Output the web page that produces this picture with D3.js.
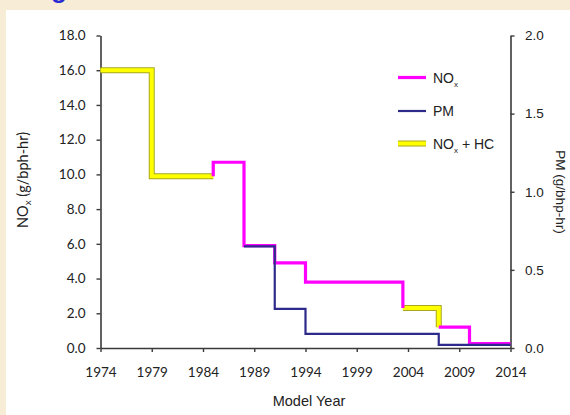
<!DOCTYPE html>
<html><head><meta charset="utf-8">
<script src="https://cdn.jsdelivr.net/npm/d3@7"></script>
<style>html,body{margin:0;padding:0;background:#f7ecd5;}svg{display:block;}</style>
</head><body>
<svg id="c" width="570" height="415"></svg>
<script>
// ---- data ----
const xTickYears = [1974, 1979, 1984, 1989, 1994, 1999, 2004, 2009, 2014];
const leftTicks = [0, 2, 4, 6, 8, 10, 12, 14, 16, 18];
const rightTicks = [0, 0.5, 1.0, 1.5, 2.0];
const noxStart = [1985, 1988, 1991, 1994, 2007, 2010];
const noxValues = [10.7, 5.9, 4.9, 3.8, 1.2, 0.25];
const noxhcStart = [1974, 1979, 2003.5];
const noxhcValues = [16.0, 9.9, 2.3];
const pmStart = [1988, 1991, 1994, 2007];
const pmValues = [0.65, 0.25, 0.09, 0.02];
const endYear = 2014;
const legendLabels = [["NO", "x", ""], ["PM", "", ""], ["NO", "x", " + HC"]];

const svg = d3.select("#c");
const X0 = 100.5, X1 = 510.5, Y0 = 348, Y1 = 35.5;
const x = d3.scaleLinear().domain([1974, 2014]).range([X0, X1]);
const yL = d3.scaleLinear().domain([0, 18]).range([Y0, Y1]);
const yR = d3.scaleLinear().domain([0, 2]).range([Y0, Y1]);

// backgrounds
svg.append("rect").attr("x", 0).attr("y", 0).attr("width", 570).attr("height", 415).attr("fill", "#f7ecd5");
svg.append("text").attr("x", 51).attr("y", -2).attr("font-family", "Liberation Sans, Arial, sans-serif")
  .attr("font-weight", "bold").attr("font-size", 26).attr("fill", "#2a2ad2").text("g");
svg.append("rect").attr("x", 6).attr("y", 10).attr("width", 564).attr("height", 405).attr("fill", "#ffffff");

const axisColor = "#3a3a3a";
function styleAxis(g, font, size) {
  g.select(".domain").attr("stroke", axisColor).attr("stroke-width", 1.6);
  g.selectAll(".tick line").attr("stroke", axisColor).attr("stroke-width", 1.4);
  g.selectAll(".tick text").attr("fill", "#222").attr("font-family", font).attr("font-size", size);
}
const calFont = "Lato, 'Open Sans', sans-serif";
const arialFont = "'Liberation Sans', Arial, sans-serif";

const gL = svg.append("g").attr("transform", `translate(${X0},0)`)
  .call(d3.axisLeft(yL).tickValues(leftTicks).tickSize(4).tickSizeOuter(0).tickPadding(11).tickFormat(d3.format(".1f")));
styleAxis(gL, calFont, 13.5);
const gR = svg.append("g").attr("transform", `translate(${X1},0)`)
  .call(d3.axisRight(yR).tickValues(rightTicks).tickSize(4).tickSizeOuter(0).tickPadding(10.5).tickFormat(d3.format(".1f")));
styleAxis(gR, arialFont, 13.5);
const gB = svg.append("g").attr("transform", `translate(0,${Y0})`)
  .call(d3.axisBottom(x).tickValues(xTickYears).tickSize(4).tickSizeOuter(0).tickPadding(15).tickFormat(d3.format("d")));
styleAxis(gB, calFont, 13.5);

// axis titles
svg.append("text").attr("x", 309).attr("y", 406).attr("text-anchor", "middle")
  .attr("font-family", arialFont).attr("font-size", 14.5).attr("fill", "#222").text("Model Year");
const lt = svg.append("text").attr("transform", "translate(28,180) rotate(-90)").attr("text-anchor", "middle")
  .attr("font-family", calFont).attr("font-size", 14.5).attr("fill", "#222");
lt.append("tspan").text("NO");
lt.append("tspan").attr("font-size", 10).attr("dy", 3).text("x");
lt.append("tspan").attr("dy", -3).text(" (g/bph-hr)");
svg.append("text").attr("transform", "translate(556,192) rotate(90)").attr("text-anchor", "middle")
  .attr("font-family", arialFont).attr("font-size", 13.5).attr("fill", "#222").text("PM (g/bhp-hr)");

// build combined NOx / NOx+HC timeline
const segs = [];
noxStart.forEach((s, i) => segs.push({start: s, v: noxValues[i], series: "nox"}));
noxhcStart.forEach((s, i) => segs.push({start: s, v: noxhcValues[i], series: "hc"}));
segs.sort((a, b) => a.start - b.start);
const runs = [];
segs.forEach((s, i) => {
  s.end = i < segs.length - 1 ? segs[i + 1].start : endYear;
  if (runs.length && runs[runs.length - 1].series === s.series) runs[runs.length - 1].segs.push(s);
  else runs.push({series: s.series, segs: [s]});
});
runs.forEach((r, ri) => {
  const pts = [];
  const first = r.segs[0], last = r.segs[r.segs.length - 1];
  const prev = ri > 0 ? runs[ri - 1].segs[runs[ri - 1].segs.length - 1] : null;
  const next = ri < runs.length - 1 ? runs[ri + 1].segs[0] : null;
  if (prev && prev.v < first.v) pts.push([first.start, prev.v]);
  r.segs.forEach(s => pts.push([s.start, s.v]));
  if (next && next.v < last.v) pts.push([last.end, next.v]);
  else pts.push([last.end, last.v]);
  r.pts = pts;
});
const lineL = d3.line().x(d => x(d[0])).y(d => yL(d[1])).curve(d3.curveStepAfter);
const lineR = d3.line().x(d => x(d[0])).y(d => yR(d[1])).curve(d3.curveStepAfter);

const plot = svg.append("g").attr("fill", "none").attr("stroke-linejoin", "miter");
runs.filter(r => r.series === "hc").forEach(r => {
  plot.append("path").attr("d", lineL(r.pts)).attr("stroke", "#a8a820").attr("stroke-width", 6);
  plot.append("path").attr("d", lineL(r.pts)).attr("stroke", "#ffff00").attr("stroke-width", 4);
});
runs.filter(r => r.series === "nox").forEach(r => {
  plot.append("path").attr("d", lineL(r.pts)).attr("stroke", "#ff00ff").attr("stroke-width", 3.2);
});
const pmPts = pmStart.map((s, i) => [s, pmValues[i]]);
pmPts.push([endYear, pmValues[pmValues.length - 1]]);
plot.append("path").attr("d", lineR(pmPts)).attr("stroke", "#2e2a8c").attr("stroke-width", 2.2);

// legend
const legY = [77.5, 111, 143.5];
const legColors = ["#ff00ff", "#2e2a8c", "#ffff00"];
const leg = svg.append("g");
legendLabels.forEach((lab, i) => {
  if (i === 2) leg.append("line").attr("x1", 398).attr("x2", 426).attr("y1", legY[i]).attr("y2", legY[i])
    .attr("stroke", "#a8a820").attr("stroke-width", 6);
  leg.append("line").attr("x1", 398).attr("x2", 426).attr("y1", legY[i]).attr("y2", legY[i])
    .attr("stroke", legColors[i]).attr("stroke-width", i === 2 ? 4 : (i === 0 ? 3.2 : 2.2));
  const t = leg.append("text").attr("x", 433).attr("y", legY[i] + 5)
    .attr("font-family", arialFont).attr("font-size", 14).attr("fill", "#222");
  t.append("tspan").text(lab[0]);
  if (lab[1]) t.append("tspan").attr("font-size", 8).attr("dy", 4).text(lab[1]);
  if (lab[2]) t.append("tspan").attr("dy", -4).text(lab[2]);
});
</script>
</body></html>
